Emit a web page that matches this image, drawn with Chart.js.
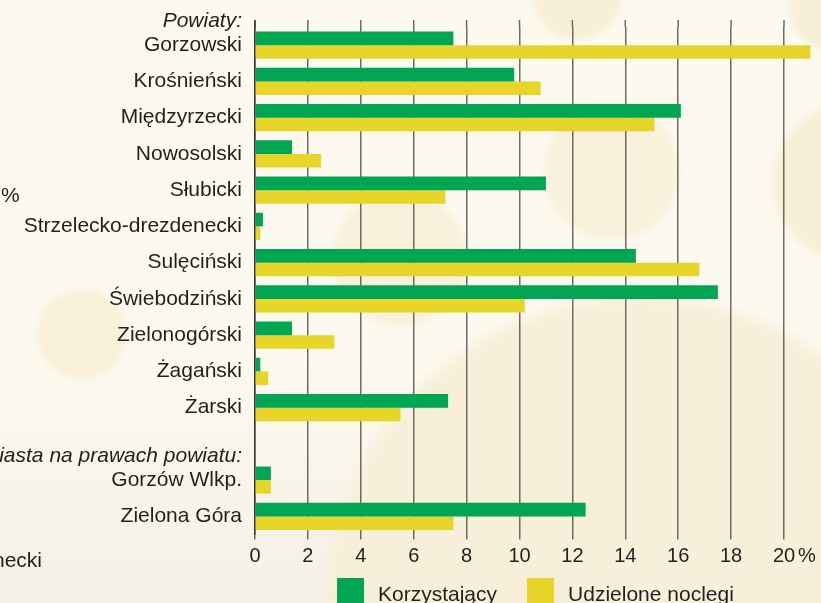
<!DOCTYPE html>
<html>
<head>
<meta charset="utf-8">
<script src="https://cdn.jsdelivr.net/npm/chart.js@4.4.1/dist/chart.umd.min.js"></script>
<style>
html,body{margin:0;padding:0;width:821px;height:603px;overflow:hidden;}
body{
  position:relative;
  font-family:"Liberation Sans",Arial,sans-serif;
  color:#231f20;
  background:
    radial-gradient(circle at 577px -5px, #f7efd6 0 40px, rgba(247,239,214,0) 48px),
    radial-gradient(circle at 832px 8px, #f7efd6 0 38px, rgba(247,239,214,0) 46px),
    radial-gradient(circle at 612px 172px, #f8f1db 0 62px, rgba(248,241,219,0) 72px),
    radial-gradient(circle at 400px 258px, #f8f1db 0 62px, rgba(248,241,219,0) 72px),
    radial-gradient(circle at 852px 182px, #f7efd6 0 74px, rgba(247,239,214,0) 84px),
    radial-gradient(circle at 82px 334px, #f8f0d9 0 40px, rgba(248,240,217,0) 49px),
    radial-gradient(circle at 640px 612px, #f7efd9 0 306px, rgba(247,239,217,0) 322px),
    linear-gradient(#fcf9ee 0, #fcf9ee 360px, #f5f0e5 603px);
}
#wrap{position:absolute;left:-60px;top:0;width:881px;height:603px;}
.stray{position:absolute;font-size:21px;line-height:21px;white-space:nowrap;color:#231f20;}
#legend{position:absolute;left:337px;top:578px;display:flex;align-items:flex-start;}
#legend .item{display:flex;align-items:flex-start;margin-right:30px;}
#legend .box{width:27px;height:27px;margin-right:14px;}
#legend .txt{font-size:21px;line-height:21px;margin-top:5px;white-space:nowrap;}
</style>
</head>
<body>
<div id="wrap"><canvas id="c" width="881" height="603"></canvas></div>
<div class="stray" style="left:1px;top:184px">%</div>
<div class="stray" style="left:-7px;top:549px">necki</div>
<div id="legend"></div>
<script>
// ---- data ----
const groupHeader = 'Powiaty:';
const categories = [
  'Gorzowski', 'Krośnieński', 'Międzyrzecki', 'Nowosolski', 'Słubicki',
  'Strzelecko-drezdenecki', 'Sulęciński', 'Świebodziński', 'Zielonogórski',
  'Żagański', 'Żarski', 'Miasta na prawach powiatu:', 'Gorzów Wlkp.', 'Zielona Góra'
];
const korzystajacy     = [7.5, 9.8, 16.1, 1.4, 11.0, 0.3, 14.4, 17.5, 1.4, 0.2, 7.3, null, 0.6, 12.5];
const udzieloneNoclegi = [21.0, 10.8, 15.1, 2.5, 7.2, 0.2, 16.8, 10.2, 3.0, 0.5, 5.5, null, 0.6, 7.5];
const seriesNames = ['Korzystający', 'Udzielone noclegi'];
const xTickValues = [0, 2, 4, 6, 8, 10, 12, 14, 16, 18, 20];
const unitLabel = '%';

// ---- styles ----
const GREEN = '#00a651';
const YELLOW = '#e8d52a';
const TEXT = '#231f20';
const GRID = '#6f6a65';
const FONT = '"Liberation Sans", Arial, sans-serif';

const isHeaderRow = i => korzystajacy[i] === null && udzieloneNoclegi[i] === null;

// legend (HTML)
const legend = document.getElementById('legend');
[[seriesNames[0], GREEN], [seriesNames[1], YELLOW]].forEach(([name, col]) => {
  const it = document.createElement('div'); it.className = 'item';
  const b = document.createElement('div'); b.className = 'box'; b.style.background = col;
  const t = document.createElement('div'); t.className = 'txt'; t.textContent = name;
  it.appendChild(b); it.appendChild(t); legend.appendChild(it);
});

const X_TICK_LEN = 5, X_PAD = 5, X_FONT = 20;
const LABEL_GAP = 13;

const annot = {
  id: 'annot',
  afterDraw(chart) {
    const { ctx, chartArea } = chart;
    const x = chart.scales.x, y = chart.scales.y;
    ctx.save();
    ctx.strokeStyle = GRID; ctx.lineWidth = 1.5;
    xTickValues.forEach(v => {
      const px = x.getPixelForValue(v);
      ctx.beginPath(); ctx.moveTo(px, chartArea.top - 7); ctx.lineTo(px, chartArea.top); ctx.stroke();
    });
    ctx.strokeStyle = '#3a3633';
    ctx.beginPath(); ctx.moveTo(chartArea.left, chartArea.top - 7); ctx.lineTo(chartArea.left, chartArea.top); ctx.stroke();
    ctx.fillStyle = TEXT;
    ctx.font = 'italic 21px ' + FONT;
    ctx.textAlign = 'right'; ctx.textBaseline = 'alphabetic';
    const lx = chartArea.left - LABEL_GAP;
    ctx.fillText(groupHeader, lx, chartArea.top);
    categories.forEach((c, i) => {
      if (isHeaderRow(i)) ctx.fillText(c, lx, y.getPixelForValue(i) + 18);
    });
    ctx.font = X_FONT + 'px ' + FONT;
    const last = xTickValues[xTickValues.length - 1];
    const lp = x.getPixelForValue(last);
    const w = ctx.measureText(String(last)).width;
    ctx.textAlign = 'left'; ctx.textBaseline = 'middle';
    ctx.fillText(unitLabel, lp + w / 2 + 3, x.top + X_TICK_LEN + X_PAD + X_FONT * 1.2 / 2);
    ctx.restore();
  }
};

new Chart(document.getElementById('c'), {
  type: 'bar',
  data: {
    labels: categories,
    datasets: [
      { label: seriesNames[0], data: korzystajacy, backgroundColor: GREEN, borderWidth: 0,
        categoryPercentage: 0.75, barPercentage: 1.0, clip: false },
      { label: seriesNames[1], data: udzieloneNoclegi, backgroundColor: YELLOW, borderWidth: 0,
        categoryPercentage: 0.75, barPercentage: 1.0, clip: false }
    ]
  },
  options: {
    indexAxis: 'y',
    responsive: false,
    animation: false,
    devicePixelRatio: 1,
    layout: { padding: { top: 27, bottom: 38.5, left: 0, right: 37 } },
    plugins: { legend: { display: false }, tooltip: { enabled: false } },
    scales: {
      x: {
        type: 'linear', min: 0, max: 20,
        afterFit: s => { s.height = 30; },
        afterBuildTicks: s => { s.ticks = xTickValues.map(v => ({ value: v })); },
        ticks: { color: TEXT, font: { family: FONT, size: X_FONT }, padding: X_PAD,
                 maxRotation: 0, autoSkip: false },
        grid: { color: GRID, lineWidth: 1.5, drawTicks: true, tickLength: X_TICK_LEN },
        border: { display: false }
      },
      y: {
        type: 'category',
        afterFit: s => { s.width = 315; },
        ticks: { color: TEXT, font: { family: FONT, size: 21 }, padding: 5, autoSkip: false,
                 callback: (v, i) => isHeaderRow(i) ? '' : categories[i] },
        grid: { display: false },
        border: { display: true, color: '#3a3633', width: 1.5 }
      }
    }
  },
  plugins: [annot]
});
</script>
</body>
</html>
